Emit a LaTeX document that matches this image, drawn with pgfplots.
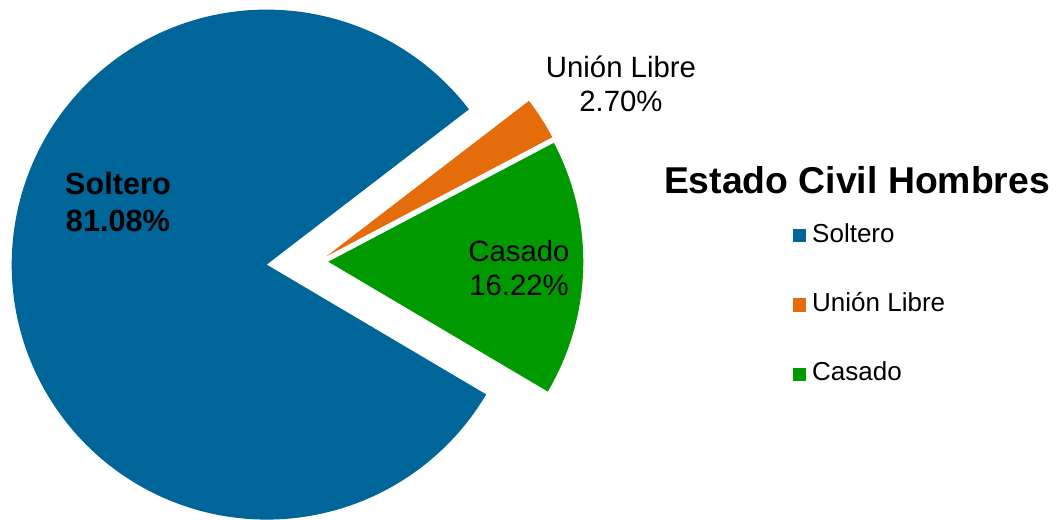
\documentclass[border=0pt]{standalone}
\usepackage{pgfplots}
\pgfplotsset{compat=1.18}
\usepackage{pgfplotstable}
\usepackage{fontspec}
\setmainfont{Liberation Sans}
\definecolor{cS}{HTML}{006699}
\definecolor{cU}{HTML}{E46C0A}
\definecolor{cC}{HTML}{009900}

% slices listed counter-clockwise, starting at -30.6 degrees
\pgfplotstableread{
name value explode
Casado 16.22 10
Union 2.70 10
Soltero 81.08 51.7
}\piedata

\begin{document}
\begin{tikzpicture}
\pgfplotstablegetelem{0}{value}\of\piedata \let\vC\pgfplotsretval
\pgfplotstablegetelem{1}{value}\of\piedata \let\vU\pgfplotsretval
\pgfplotstablegetelem{2}{value}\of\piedata \let\vS\pgfplotsretval
\pgfplotstablegetelem{0}{explode}\of\piedata \let\eC\pgfplotsretval
\pgfplotstablegetelem{1}{explode}\of\piedata \let\eU\pgfplotsretval
\pgfplotstablegetelem{2}{explode}\of\piedata \let\eS\pgfplotsretval
\def\cx{318.3}\def\cy{258.5}\def\R{191.25pt}
\pgfmathsetmacro\aA{-30.6}
\pgfmathsetmacro\aB{\aA+3.6*\vC}
\pgfmathsetmacro\aC{\aB+3.6*\vU}
\pgfmathsetmacro\aD{\aC+3.6*\vS}
\pgfmathsetmacro\mC{(\aA+\aB)/2}
\pgfmathsetmacro\mU{(\aB+\aC)/2}
\pgfmathsetmacro\mS{(\aC+\aD)/2}
\pgfmathsetmacro\xC{\cx+\eC*cos(\mC)}\pgfmathsetmacro\yC{\cy+\eC*sin(\mC)}
\pgfmathsetmacro\xU{\cx+\eU*cos(\mU)}\pgfmathsetmacro\yU{\cy+\eU*sin(\mU)}
\pgfmathsetmacro\xS{\cx+\eS*cos(\mS)}\pgfmathsetmacro\yS{\cy+\eS*sin(\mS)}
\begin{axis}[
  x=0.75pt, y=0.75pt,
  xmin=0, xmax=1058, ymin=0, ymax=520,
  hide axis, scale only axis, clip=false,
  legend image code/.code={\fill[#1,draw=none] (0pt,-4.9pt) rectangle (9.75pt,4.9pt); \path (14pt,0pt);},
  legend cell align=left,
  legend style={draw=none, fill=none, at={(axis cs:793,215)}, anchor=west,
    inner sep=0pt, row sep=34pt,
    font=\fontsize{19.5}{23}\selectfont,
    nodes={text height=14pt, text depth=4pt, inner sep=0pt}},
]
\path (axis cs:0,0) rectangle (axis cs:1058,520);
\fill[cC, overlay] (axis cs:\xC,\yC) -- ++(\aA:\R) arc[start angle=\aA, end angle=\aB, radius=\R] -- cycle;
\fill[cU, overlay] (axis cs:\xU,\yU) -- ++(\aB:\R) arc[start angle=\aB, end angle=\aC, radius=\R] -- cycle;
\fill[cS, overlay] (axis cs:\xS,\yS) -- ++(\aC:\R) arc[start angle=\aC, end angle=\aD, radius=\R] -- cycle;
\node[align=center, font=\bfseries\fontsize{23}{28}\selectfont] at (axis cs:118,318) {Soltero\\81.08\%};
\node[align=center, font=\fontsize{22}{25}\selectfont] at (axis cs:519,252) {Casado\\16.22\%};
\node[align=center, font=\fontsize{22}{25}\selectfont] at (axis cs:621,436) {Unión Libre\\2.70\%};
\node[font=\bfseries\fontsize{28}{33}\selectfont] at (axis cs:857,340) {Estado Civil Hombres};
\addlegendimage{fill=cS}\addlegendentry{Soltero}
\addlegendimage{fill=cU}\addlegendentry{Unión Libre}
\addlegendimage{fill=cC}\addlegendentry{Casado}
\end{axis}
\end{tikzpicture}
\end{document}
